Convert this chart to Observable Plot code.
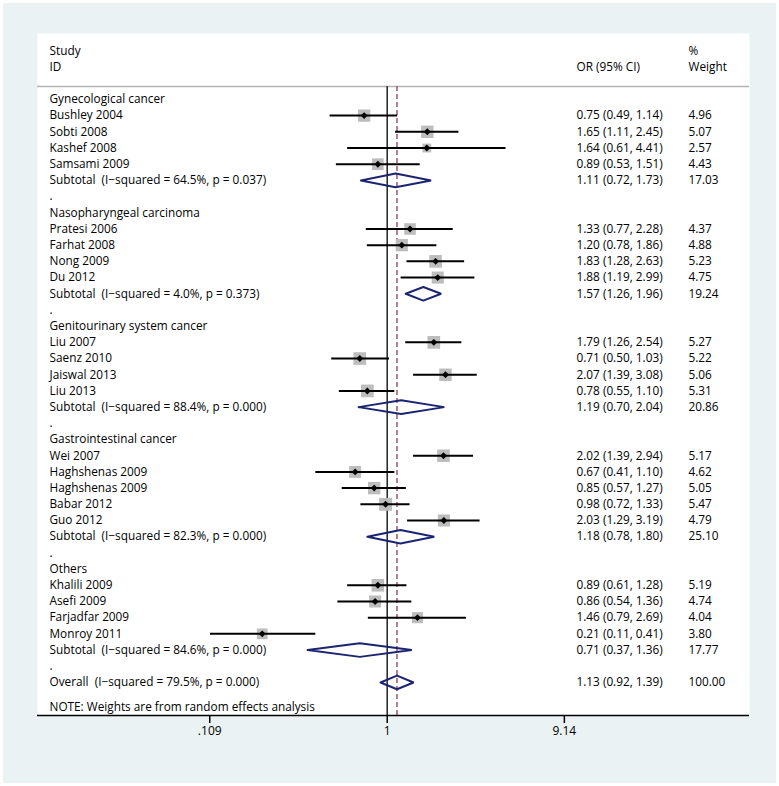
<!DOCTYPE html>
<html><head><meta charset="utf-8">
<script src="https://cdn.jsdelivr.net/npm/d3@7"></script>
<script src="https://cdn.jsdelivr.net/npm/@observablehq/plot@0.6"></script>
<style>html,body{margin:0;padding:0;background:#fff;overflow:hidden}</style>
</head><body><div id="chart"></div>
<script>
// ---- data ----
const groupNames = ["Gynecological cancer","Nasopharyngeal carcinoma","Genitourinary system cancer","Gastrointestinal cancer","Others"];
const studyNames = ["Bushley 2004","Sobti 2008","Kashef 2008","Samsami 2009",
  "Pratesi 2006","Farhat 2008","Nong 2009","Du 2012",
  "Liu 2007","Saenz 2010","Jaiswal 2013","Liu 2013",
  "Wei 2007","Haghshenas 2009","Haghshenas 2009","Babar 2012","Guo 2012",
  "Khalili 2009","Asefi 2009","Farjadfar 2009","Monroy 2011"];
const studyGroup = [0,0,0,0, 1,1,1,1, 2,2,2,2, 3,3,3,3,3, 4,4,4,4];
const studyOR = [0.75,1.65,1.64,0.89, 1.33,1.20,1.83,1.88, 1.79,0.71,2.07,0.78, 2.02,0.67,0.85,0.98,2.03, 0.89,0.86,1.46,0.21];
const studyLo = [0.49,1.11,0.61,0.53, 0.77,0.78,1.28,1.19, 1.26,0.50,1.39,0.55, 1.39,0.41,0.57,0.72,1.29, 0.61,0.54,0.79,0.11];
const studyHi = [1.14,2.45,4.41,1.51, 2.28,1.86,2.63,2.99, 2.54,1.03,3.08,1.10, 2.94,1.10,1.27,1.33,3.19, 1.28,1.36,2.69,0.41];
const studyWeight = [4.96,5.07,2.57,4.43, 4.37,4.88,5.23,4.75, 5.27,5.22,5.06,5.31, 5.17,4.62,5.05,5.47,4.79, 5.19,4.74,4.04,3.80];
const subI2 = ["64.5%","4.0%","88.4%","82.3%","84.6%"];
const subP = ["0.037","0.373","0.000","0.000","0.000"];
const subOR = [1.11,1.57,1.19,1.18,0.71];
const subLo = [0.72,1.26,0.70,0.78,0.37];
const subHi = [1.73,1.96,2.04,1.80,1.36];
const subWeight = [17.03,19.24,20.86,25.10,17.77];
const overall = {label:"Overall  (I\u2212squared = 79.5%, p = 0.000)", or:1.13, lo:0.92, hi:1.39, weight:100.00};
const note = "NOTE: Weights are from random effects analysis";
const tickValues = [0.109, 1, 9.14];
const tickLabels = [".109", "1", "9.14"];

// ---- build rows ----
const left = [{row:-3,text:"Study"},{row:-2,text:"ID"}];
const orCol = [{row:-2,text:"OR (95% CI)"}];
const wCol = [{row:-3,text:"%"},{row:-2,text:"Weight"}];
const studies = [], subs = [];
let row = 0;
groupNames.forEach((g, gi) => {
  left.push({row, text:g}); row++;
  studyNames.forEach((s, i) => {
    if (studyGroup[i] !== gi) return;
    const d = {row, name:s, or:studyOR[i], lo:studyLo[i], hi:studyHi[i], w:studyWeight[i]};
    studies.push(d);
    left.push({row, text:s});
    orCol.push({row, text:`${d.or.toFixed(2)} (${d.lo.toFixed(2)}, ${d.hi.toFixed(2)})`});
    wCol.push({row, text:d.w.toFixed(2)});
    row++;
  });
  const s = {row, or:subOR[gi], lo:subLo[gi], hi:subHi[gi], w:subWeight[gi], g:gi};
  subs.push(s);
  left.push({row, text:`Subtotal  (I\u2212squared = ${subI2[gi]}, p = ${subP[gi]})`});
  orCol.push({row, text:`${s.or.toFixed(2)} (${s.lo.toFixed(2)}, ${s.hi.toFixed(2)})`});
  wCol.push({row, text:s.w.toFixed(2)});
  row++;
  left.push({row, text:"."}); row++;
});
const ov = {row, or:overall.or, lo:overall.lo, hi:overall.hi, w:overall.weight, g:"overall"};
subs.push(ov);
left.push({row, text:overall.label});
orCol.push({row, text:`${ov.or.toFixed(2)} (${ov.lo.toFixed(2)}, ${ov.hi.toFixed(2)})`});
wCol.push({row, text:ov.w.toFixed(2)});
const noteRow = row + 1.5;
left.push({row:noteRow, text:note});

const sepRow = -0.8, topRow = -4.07, axisRow = 38.04;
const dh = 0.42;
const diamonds = subs.flatMap(s => [
  {g:s.g, x:s.lo, y:s.row}, {g:s.g, x:s.or, y:s.row - dh}, {g:s.g, x:s.hi, y:s.row},
  {g:s.g, x:s.or, y:s.row + dh}, {g:s.g, x:s.lo, y:s.row}]);

const ticks = tickValues.map((v, i) => ({v, label: tickLabels[i]}));

const FONT = 11.8;
const FAM = "'Open Sans', sans-serif";
const chart = Plot.plot({
  width: 779, height: 786,
  marginLeft: 37, marginRight: 30, marginTop: 33, marginBottom: 71,
  style: "background:#eaf2f3; box-shadow: inset 0 0 0 3px #ffffff; font-family: 'Open Sans', sans-serif; color:#000;",
  x: {type: "log", domain: [0.01268, 92.3]},
  y: {domain: [topRow, axisRow], reverse: true, axis: null},
  r: {type: "sqrt", domain: [0, 4.96], range: [0, 6.94], clamp: false},
  marks: [
    Plot.frame({fill: "white", stroke: "none"}),
    Plot.ruleY([sepRow], {stroke: "#b4b4b4", strokeWidth: 1.5}),
    Plot.ruleX([1], {y1: sepRow, y2: axisRow, stroke: "#222", strokeWidth: 1.5}),
    Plot.ruleX([overall.or], {y1: sepRow, y2: axisRow, stroke: "#a05468", strokeWidth: 1.5, strokeDasharray: "5,3"}),
    Plot.dot(studies, {x: "or", y: "row", r: "w", symbol: "square", fill: "#bdbdbd", stroke: "none"}),
    Plot.ruleY(studies, {y: "row", x1: "lo", x2: "hi", stroke: "black", strokeWidth: 2}),
    Plot.dot(studies, {x: "or", y: "row", r: 3.1, symbol: "diamond2", fill: "black", stroke: "none"}),
    Plot.line(diamonds, {x: "x", y: "y", z: "g", stroke: "#1b2470", strokeWidth: 2, strokeLinejoin: "miter"}),
    Plot.ruleY([axisRow], {stroke: "black", strokeWidth: 1.5}),
    Plot.axisX(tickValues, {tickSize: 8, strokeWidth: 1.5, stroke: "black", label: null, tickFormat: () => ""}),
    Plot.text(ticks, {x: "v", text: "label", frameAnchor: "bottom", dy: 19, fontSize: 12, fontFamily: FAM, fill: "black"}),
    Plot.text(left, {y: "row", text: "text", frameAnchor: "left", dx: 12, textAnchor: "start", fontSize: FONT, fontFamily: FAM, fill: "black"}),
    Plot.text(orCol, {y: "row", text: "text", frameAnchor: "right", dx: -173, textAnchor: "start", fontSize: FONT, fontFamily: FAM, fill: "black"}),
    Plot.text(wCol, {y: "row", text: "text", frameAnchor: "right", dx: -61, textAnchor: "start", fontSize: FONT, fontFamily: FAM, fill: "black"})
  ]
});
document.getElementById("chart").appendChild(chart);
</script></body></html>
